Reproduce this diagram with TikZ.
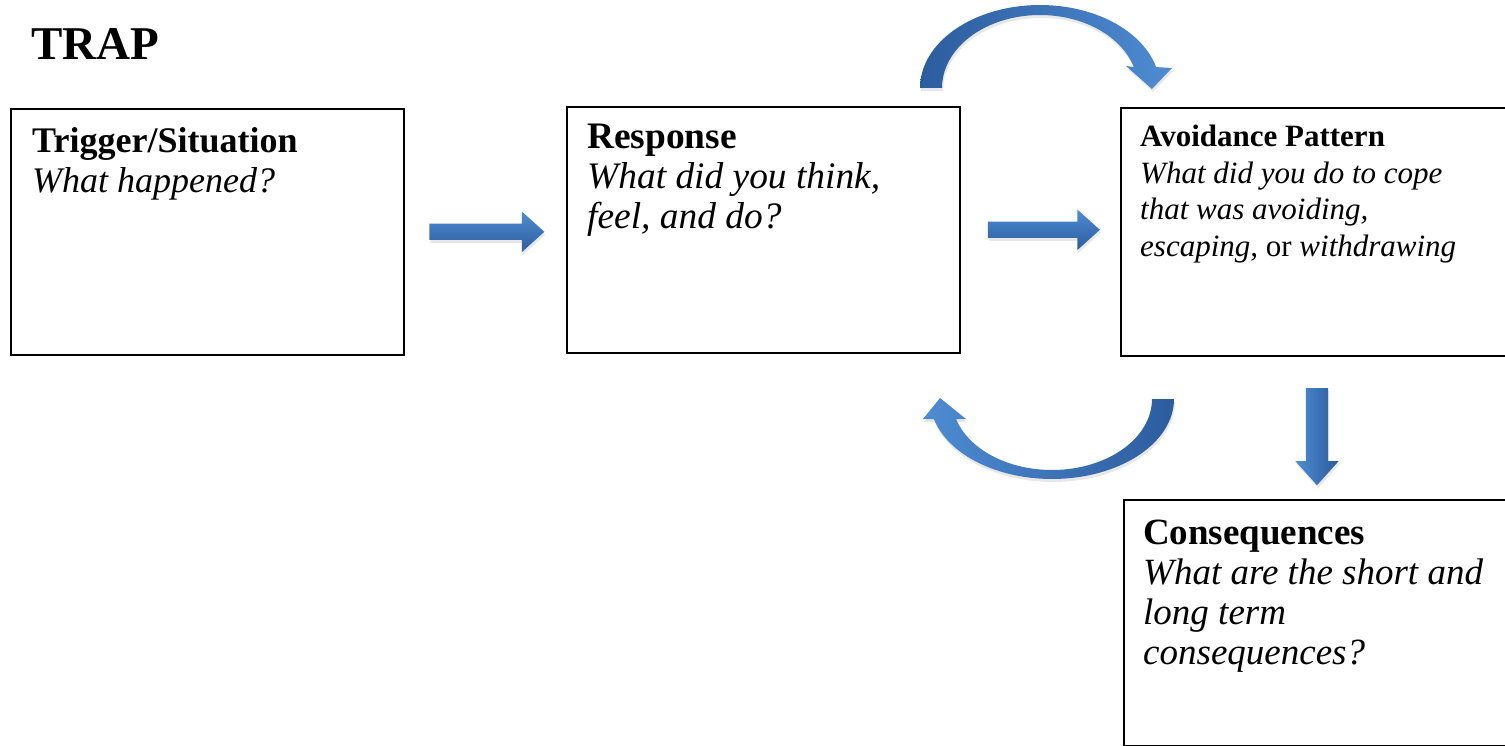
\documentclass[tikz,border=0pt]{standalone}
\usepackage{fontspec}
\setmainfont{Liberation Serif}
\usetikzlibrary{shapes.arrows,calc,shadows}
\definecolor{blueL}{RGB}{78,140,210}
\definecolor{blueD}{RGB}{44,92,158}
\begin{document}
\begin{tikzpicture}[x=1pt,y=-1pt,
  rbox/.style={draw=black,line width=1.6pt,anchor=north west,inner sep=0pt},
  arrowbase/.style={single arrow, single arrow tip angle=84, draw=none,
     drop shadow={shadow xshift=1pt,shadow yshift=-3pt,opacity=0.18}},
  barrow/.style={arrowbase, single arrow head extend=12pt, inner sep=8pt,
     minimum width=40pt, top color=blueL, bottom color=blueD},
  carrow/.style={drop shadow={shadow xshift=1pt,shadow yshift=-3pt,opacity=0.18}},
  txt/.style={anchor=base west,inner sep=0pt}]
\useasboundingbox (0,0) rectangle (1505,746);
\clip (0,0) rectangle (1505,746);

% boxes
\node[rbox, minimum width=393pt, minimum height=246pt] (b1) at (10,108) {};
\node[rbox, minimum width=393pt, minimum height=246pt] (b2) at (566,106) {};
\node[rbox, minimum width=400pt, minimum height=248pt] (b3) at (1120,107) {};
\node[rbox, minimum width=400pt, minimum height=246pt] (b4) at (1123,499) {};

% texts
\node[txt] (title) at (31,60) {\fontsize{47}{50}\selectfont\bfseries TRAP};
\node[txt] (t1) at (32,153) {\vtop{\fontsize{36}{40}\selectfont
  \hbox{\bfseries Trigger/Situation}\hbox{\itshape What happened?}}};
\node[txt] (t2) at (587,149) {\vtop{\fontsize{37.4}{40}\selectfont
  \hbox{\bfseries Response}\hbox{\itshape What did you think,}\hbox{\itshape feel, and do?}}};
\node[txt] (t3) at (1140,147) {\vtop{\fontsize{31}{36.5}\selectfont
  \hbox{\bfseries Avoidance Pattern}\hbox{\itshape What did you do to cope}
  \hbox{\itshape that was avoiding,}\hbox{\itshape escaping, {\upshape or} withdrawing}}};
\node[txt] (t4) at (1143,544) {\vtop{\fontsize{37}{40.3}\selectfont
  \hbox{\bfseries Consequences}\hbox{\itshape What are the short and}
  \hbox{\itshape long term}\hbox{\itshape consequences?}}};

% straight block arrows
\node[barrow, minimum height=115pt] (a1) at ($(b1.east)!0.5!(b2.west)+(-3,1)$) {};
\node[barrow, minimum height=112pt] (a2) at ($(b2.east)!0.5!(b3.west)+(-1,-1)$) {};
\node[arrowbase, rotate=-90, minimum height=97pt, minimum width=43pt,
      single arrow head extend=10.5pt, inner sep=11pt,
      left color=blueL, right color=blueD] (a3) at (1317,430.5) {};

% curved arrow on top (Response -> Avoidance)
\path[carrow, left color=blueD, right color=blueL]
  plot[domain=180:14.6,samples=60] ({1040+120*cos(\x)},{88-83*sin(\x)})
  -- (1172,68) -- (1152,89) -- (1126,66)
  -- plot[domain=16.7:180,samples=60] ({1040+98*cos(\x)},{88-73*sin(\x)}) -- cycle;

% curved arrow at bottom (Avoidance -> Response)
\path[carrow, left color=blueL, right color=blueD]
  plot[domain=0:-165.5,samples=60] ({1052+122*cos(\x)},{399-80*sin(\x)})
  -- (923,419) -- (940,398) -- (966,419)
  -- plot[domain=-163.6:0,samples=60] ({1052+100*cos(\x)},{399-71*sin(\x)}) -- cycle;
\end{tikzpicture}
\end{document}
